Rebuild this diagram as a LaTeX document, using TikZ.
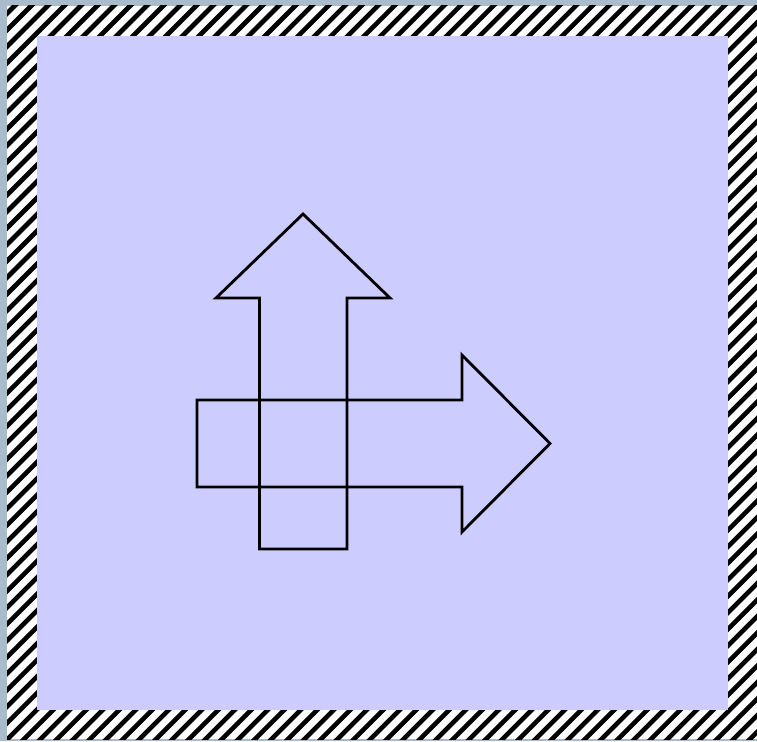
\documentclass[tikz,border=0pt]{standalone}
\definecolor{outerbg}{RGB}{170,187,204}
\definecolor{lavender}{RGB}{204,204,255}
\begin{document}
\begin{tikzpicture}[x=1pt,y=-1pt,
  outline/.style={draw=black,line width=2.8pt,miter limit=10}]
\useasboundingbox (0,0) rectangle (757,741);
\fill[outerbg] (0,0) rectangle (757,741);
\begin{scope}
  \clip (7,6) rectangle (758,739);
  \fill[white] (7,6) rectangle (758,739);
  \foreach \i in {-50,...,50}
    \draw[black,line width=4.6pt] ({\i*16.5+3},760) -- ({\i*16.5+763},0);
\end{scope}
\fill[lavender] (37,36) rectangle (728,710);
\draw[outline] (259.5,549) -- (259.5,298) -- (216,298) -- (303,214) -- (390,298) -- (347,298) -- (347,549) -- cycle;
\draw[outline] (197,400) -- (462,400) -- (462,355) -- (550,443.5) -- (462,532) -- (462,487) -- (197,487) -- cycle;
\end{tikzpicture}
\end{document}
